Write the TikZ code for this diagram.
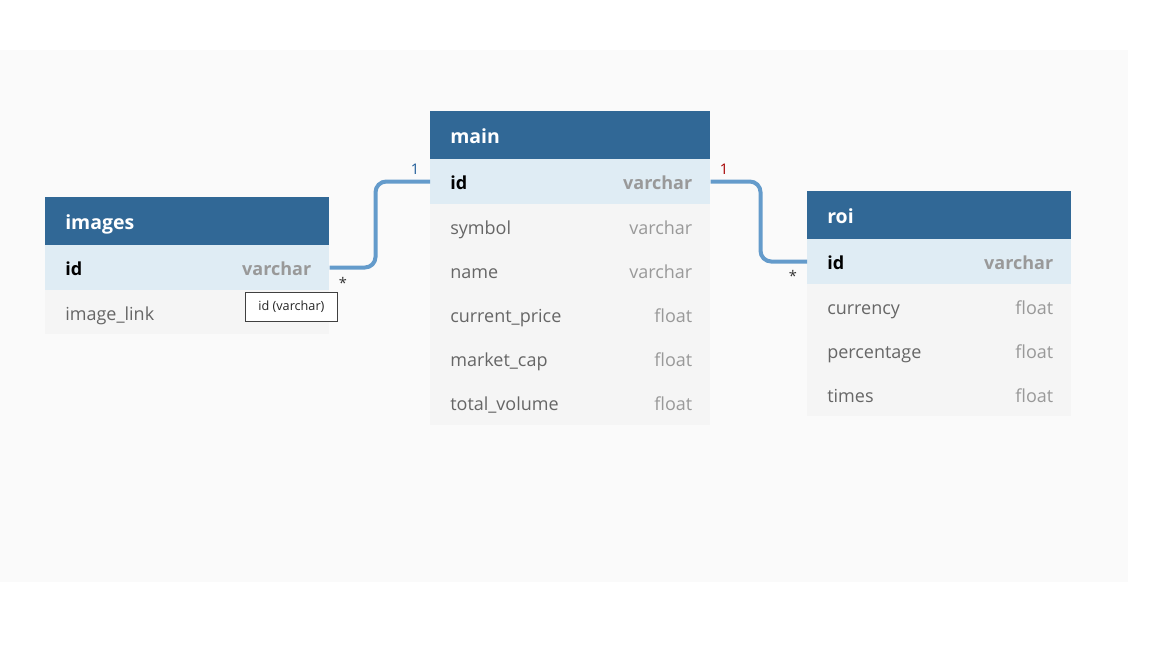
\documentclass[tikz,border=0pt]{standalone}
\usepackage{fontspec}
\setmainfont{Open Sans}
\definecolor{hdr}{HTML}{316896}
\definecolor{idrow}{HTML}{DFECF4}
\definecolor{frow}{HTML}{F5F5F5}
\definecolor{canvas}{HTML}{FAFAFA}
\definecolor{conn}{HTML}{649BCB}
\definecolor{fname}{HTML}{666666}
\definecolor{ftype}{HTML}{999999}
\definecolor{oneblue}{HTML}{1F5C99}
\definecolor{onered}{HTML}{A50000}
\tikzset{
  tbl/.style={draw=none, inner sep=0pt, minimum height=33.4pt, anchor=north west},
  hdrbox/.style={tbl, fill=hdr, minimum height=36pt},
  idbox/.style={tbl, fill=idrow},
  rowbox/.style={tbl, fill=frow},
  hdrtxt/.style={anchor=base west, inner sep=0pt, text=white, font=\fontsize{14.6pt}{16pt}\selectfont\bfseries},
  keytxt/.style={anchor=base west, inner sep=0pt, text=black, font=\fontsize{13.5pt}{16pt}\selectfont\bfseries},
  keytype/.style={anchor=base east, inner sep=0pt, text=ftype, font=\fontsize{13.5pt}{16pt}\selectfont\bfseries},
  ftxt/.style={anchor=base west, inner sep=0pt, text=fname, font=\fontsize{13.5pt}{16pt}\selectfont},
  ftypetxt/.style={anchor=base east, inner sep=0pt, text=ftype, font=\fontsize{13.5pt}{16pt}\selectfont},
  link/.style={draw=conn, line width=3pt, rounded corners=8pt},
  card/.style={inner sep=0pt, font=\fontsize{11pt}{12pt}\selectfont},
  tip/.style={draw=black!75, fill=white, line width=0.6pt, minimum width=69pt, minimum height=22pt, inner sep=0pt, text=black!85, font=\fontsize{9.5pt}{11pt}\selectfont}
}
\begin{document}
\begin{tikzpicture}[x=0.75pt,y=-0.75pt]
\useasboundingbox (0,0) rectangle (1152,648);
\fill[white] (0,0) rectangle (1152,648);
\fill[canvas] (0,50) rectangle (1128,582);

% ---------- images ----------
\node[hdrbox, minimum width=213pt] (ih) at (45,197) {};
\node[idbox, minimum width=213pt] (iid) at (45,245) {};
\node[rowbox, minimum width=213pt] (ilink) at (45,289.5) {};
\node[hdrtxt] at ([xshift=15pt,yshift=-6.2pt]ih.west) {images};
\node[keytxt] at ([xshift=15pt,yshift=-6.2pt]iid.west) {id};
\node[keytype] at ([xshift=-13.5pt,yshift=-6.2pt]iid.east) {varchar};
\node[ftxt] at ([xshift=15pt,yshift=-6.2pt]ilink.west) {image\_link};

% ---------- main ----------
\node[hdrbox, minimum width=210pt] (mh) at (430,111) {};
\node[idbox, minimum width=210pt] (mid) at (430,159) {};
\node[rowbox, minimum width=210pt] (msym) at (430,203.5) {};
\node[rowbox, minimum width=210pt] (mname) at (430,247.5) {};
\node[rowbox, minimum width=210pt] (mcp) at (430,291.5) {};
\node[rowbox, minimum width=210pt] (mmc) at (430,335.5) {};
\node[rowbox, minimum width=210pt] (mtv) at (430,380) {};
\node[hdrtxt] at ([xshift=15pt,yshift=-6.2pt]mh.west) {main};
\node[keytxt] at ([xshift=15pt,yshift=-6.2pt]mid.west) {id};
\node[keytype] at ([xshift=-13.5pt,yshift=-6.2pt]mid.east) {varchar};
\node[ftxt] at ([xshift=15pt,yshift=-6.2pt]msym.west) {symbol};
\node[ftypetxt] at ([xshift=-13.5pt,yshift=-6.2pt]msym.east) {varchar};
\node[ftxt] at ([xshift=15pt,yshift=-6.2pt]mname.west) {name};
\node[ftypetxt] at ([xshift=-13.5pt,yshift=-6.2pt]mname.east) {varchar};
\node[ftxt] at ([xshift=15pt,yshift=-6.2pt]mcp.west) {current\_price};
\node[ftypetxt] at ([xshift=-13.5pt,yshift=-6.2pt]mcp.east) {float};
\node[ftxt] at ([xshift=15pt,yshift=-6.2pt]mmc.west) {market\_cap};
\node[ftypetxt] at ([xshift=-13.5pt,yshift=-6.2pt]mmc.east) {float};
\node[ftxt] at ([xshift=15pt,yshift=-6.2pt]mtv.west) {total\_volume};
\node[ftypetxt] at ([xshift=-13.5pt,yshift=-6.2pt]mtv.east) {float};

% ---------- roi ----------
\node[hdrbox, minimum width=198pt] (rh) at (807,191) {};
\node[idbox, minimum width=198pt] (rid) at (807,239) {};
\node[rowbox, minimum width=198pt] (rcur) at (807,283.5) {};
\node[rowbox, minimum width=198pt] (rper) at (807,327.5) {};
\node[rowbox, minimum width=198pt] (rtim) at (807,371.5) {};
\node[hdrtxt] at ([xshift=15pt,yshift=-6.2pt]rh.west) {roi};
\node[keytxt] at ([xshift=15pt,yshift=-6.2pt]rid.west) {id};
\node[keytype] at ([xshift=-13.5pt,yshift=-6.2pt]rid.east) {varchar};
\node[ftxt] at ([xshift=15pt,yshift=-6.2pt]rcur.west) {currency};
\node[ftypetxt] at ([xshift=-13.5pt,yshift=-6.2pt]rcur.east) {float};
\node[ftxt] at ([xshift=15pt,yshift=-6.2pt]rper.west) {percentage};
\node[ftypetxt] at ([xshift=-13.5pt,yshift=-6.2pt]rper.east) {float};
\node[ftxt] at ([xshift=15pt,yshift=-6.2pt]rtim.west) {times};
\node[ftypetxt] at ([xshift=-13.5pt,yshift=-6.2pt]rtim.east) {float};

% ---------- connectors ----------
\draw[link] (iid.east) -- ++(46,0) |- (mid.west);
\draw[link] (mid.east) -- ++(50,0) |- (rid.west);

\node[card, text=oneblue] (c1) at (415,169) {1};
\node[card, text=black!80] (c2) at (343,283) {*};
\node[card, text=onered] (c3) at (724,169) {1};
\node[card, text=black!80] (c4) at (793,276) {*};

% ---------- tooltip ----------
\node[tip, anchor=north west] (tt) at (245,292) {id (varchar)};
\end{tikzpicture}
\end{document}
